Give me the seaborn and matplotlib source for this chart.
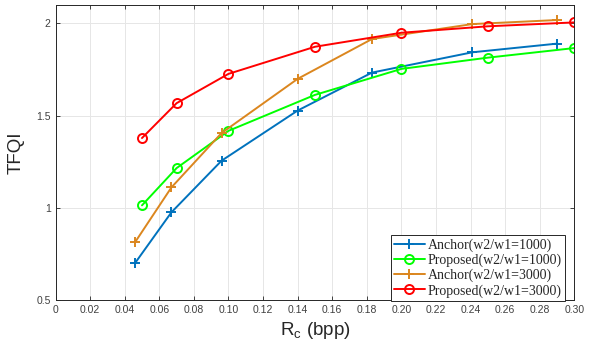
import numpy as np
import pandas as pd
import matplotlib
matplotlib.use("Agg")
import matplotlib.pyplot as plt
from matplotlib.ticker import FuncFormatter, MultipleLocator
import seaborn as sns

# values
anchor_x = [0.046, 0.067, 0.096, 0.140, 0.183, 0.241, 0.290]
anchor_1000 = [0.70, 0.975, 1.255, 1.527, 1.733, 1.843, 1.890]
anchor_3000 = [0.813, 1.110, 1.405, 1.699, 1.915, 1.996, 2.018]

proposed_x = [0.050, 0.070, 0.100, 0.150, 0.200, 0.250, 0.300]
proposed_1000 = [1.013, 1.215, 1.417, 1.612, 1.753, 1.814, 1.866]
proposed_3000 = [1.378, 1.567, 1.726, 1.873, 1.949, 1.984, 2.005]

labels = ["Anchor(w2/w1=1000)", "Proposed(w2/w1=1000)",
          "Anchor(w2/w1=3000)", "Proposed(w2/w1=3000)"]
colors = ["#0072BD", "#00FF00", "#DB861E", "#FF0000"]

sns.set_style("whitegrid")
plt.rcParams["font.family"] = ["Liberation Sans", "DejaVu Sans"]

fig = plt.figure(figsize=(5.93, 3.5), dpi=100)
ax = fig.add_axes([0.0936, 0.143, 0.875, 0.843])

series = [(anchor_x, anchor_1000, "+"), (proposed_x, proposed_1000, "o"),
          (anchor_x, anchor_3000, "+"), (proposed_x, proposed_3000, "o")]
for (xs, ys, mk), lab, col in zip(series, labels, colors):
    df = pd.DataFrame({"x": xs, "y": ys})
    sns.lineplot(data=df, x="x", y="y", ax=ax, color=col, label=lab,
                 linewidth=1.4, marker=mk, markersize=6.5,
                 markerfacecolor="none", markeredgecolor=col,
                 markeredgewidth=1.4)

ax.set_xlim(0, 0.30)
ax.set_ylim(0.5, 2.1)
ax.xaxis.set_major_locator(MultipleLocator(0.02))
ax.set_yticks([0.5, 1, 1.5, 2])
ax.xaxis.set_major_formatter(FuncFormatter(lambda v, p: "0" if abs(v) < 1e-9 else f"{v:.2f}"))
ax.yaxis.set_major_formatter(FuncFormatter(lambda v, p: f"{v:g}"))

ax.tick_params(direction="in", length=3, width=0.6, colors="#262626",
               labelsize=7.5, labelcolor="#404040", top=True, right=True,
               bottom=True, left=True)
ax.grid(True, color="#e6e6e6", linewidth=0.7)
for s in ax.spines.values():
    s.set_color("#262626")
    s.set_linewidth(0.7)

ax.set_xlabel("R$_\\mathregular{c}$ (bpp)", fontsize=13.5, color="#262626", labelpad=4)
ax.set_ylabel("TFQI", fontsize=13.5, color="#262626", labelpad=8)

leg = ax.legend(loc="lower right", bbox_to_anchor=(0.953, 0.14),
                bbox_transform=fig.transFigure, borderaxespad=0,
                prop={"family": "Liberation Serif", "size": 10},
                frameon=True, fancybox=False, framealpha=1,
                edgecolor="#262626", handlelength=2.2, handletextpad=0.2,
                labelspacing=0.12, borderpad=0.25)
leg.get_frame().set_linewidth(0.7)

fig.savefig("out.png", dpi=100)
